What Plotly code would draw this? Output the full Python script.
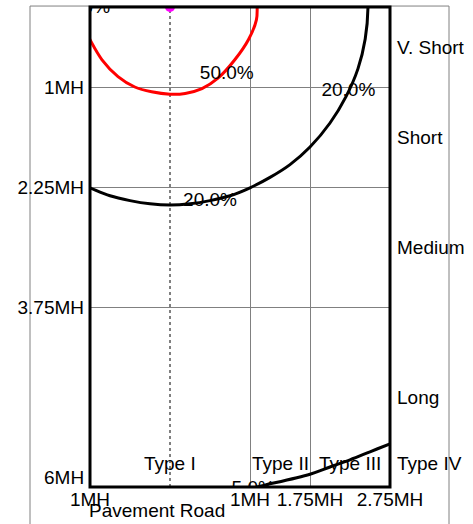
import plotly.graph_objects as go

# ---- axis ticks (in mounting heights, MH) ----
x_tick_vals = [-1, 1, 1.75, 2.75]
x_tick_text = ["1MH", "1MH", "1.75MH", "2.75MH"]
y_tick_vals = [1, 2.25, 3.75]
y_tick_text = ["1MH", "2.25MH", "3.75MH"]
y_last_tick_val = 6
y_last_tick_text = "6MH"

# ---- isocandela traces ----
red50_x = [-1.08, -1.01, -0.85, -0.65, -0.44, -0.23, 0.0, 0.19, 0.40, 0.60, 0.81, 0.98, 1.08, 1.09, 1.09]
red50_y = [0.25, 0.39, 0.66, 0.87, 1.00, 1.06, 1.09, 1.08, 1.02, 0.89, 0.66, 0.41, 0.16, 0.0, -0.1]

black20_x = [-1.1, -1.0, -0.75, -0.5, -0.25, 0.0, 0.25, 0.5, 0.75, 1.0, 1.25, 1.5, 1.75, 2.0, 2.2, 2.35, 2.44, 2.475, 2.47]
black20_y = [2.22, 2.26, 2.36, 2.42, 2.46, 2.475, 2.46, 2.42, 2.36, 2.26, 2.13, 1.97, 1.75, 1.45, 1.12, 0.77, 0.40, 0.0, -0.1]

black5_x = [0.6, 0.8, 1.0, 1.17, 1.75, 2.0, 2.25, 2.5, 2.75, 2.85]
black5_y = [6.07, 6.05, 6.02, 5.98, 5.84, 5.75, 5.66, 5.56, 5.46, 5.42]

# luminaire position
lum_x = [0.0]
lum_y = [0.0]

# contour labels
label_x = [0.71, 2.23, 0.5, 1.04, -1.02]
label_y = [0.84, 1.05, 2.43, 6.03, 0.02]
label_text = ["50.0%", "20.0%", "20.0%", "5.0%", "5.0%"]

# classification labels
lateral_types = ["Type I", "Type II", "Type III"]
lateral_x = [0.0, 1.375, 2.25]
lateral_label_y = 5.7
type4_label = "Type IV"
vertical_types = ["V. Short", "Short", "Medium", "Long"]
vertical_y = [0.5, 1.625, 3.0, 4.875]

FONT = "Liberation Sans, Arial, Helvetica, sans-serif"
FS = 19

fig = go.Figure()

fig.add_trace(go.Scatter(x=red50_x, y=red50_y, mode="lines",
                         line=dict(color="#ff0000", width=3, shape="spline", smoothing=1.0),
                         hoverinfo="skip", showlegend=False))
fig.add_trace(go.Scatter(x=black20_x, y=black20_y, mode="lines",
                         line=dict(color="#000000", width=3, shape="spline", smoothing=1.0),
                         hoverinfo="skip", showlegend=False))
fig.add_trace(go.Scatter(x=black5_x, y=black5_y, mode="lines",
                         line=dict(color="#000000", width=3, shape="spline", smoothing=1.0),
                         hoverinfo="skip", showlegend=False))
fig.add_trace(go.Scatter(x=label_x, y=label_y, mode="text", text=label_text,
                         textposition="middle center", cliponaxis=True,
                         textfont=dict(family=FONT, size=FS, color="#000000"),
                         hoverinfo="skip", showlegend=False))
fig.add_trace(go.Scatter(x=lum_x, y=lum_y, mode="markers", cliponaxis=True,
                         marker=dict(color="#ff00ff", size=10, symbol="circle"),
                         hoverinfo="skip", showlegend=False))

shapes = [
    dict(type="line", xref="x", yref="paper", x0=0, x1=0, y0=0, y1=1,
         line=dict(color="#000000", width=1, dash="dot"), layer="below"),
    dict(type="path", xref="paper", yref="paper",
         path="M -0.2,-0.2 L -0.2,1.002 L 1.1967,1.002 L 1.1967,-0.2",
         line=dict(color="#808080", width=1), layer="below"),
    dict(type="rect", xref="paper", yref="paper", x0=0, x1=1, y0=0, y1=1,
         line=dict(color="#000000", width=3), fillcolor="rgba(0,0,0,0)", layer="above"),
]

annotations = []
for t, xv in zip(lateral_types, lateral_x):
    annotations.append(dict(x=xv, y=lateral_label_y, xref="x", yref="y", text=t,
                            showarrow=False, xanchor="center", yanchor="middle",
                            font=dict(family=FONT, size=FS, color="#000000")))
annotations.append(dict(x=2.75, y=lateral_label_y, xref="x", yref="y", text=type4_label,
                        showarrow=False, xanchor="left", yanchor="middle", xshift=5,
                        font=dict(family=FONT, size=FS, color="#000000")))
for t, yv in zip(vertical_types, vertical_y):
    annotations.append(dict(x=2.75, y=yv, xref="x", yref="y", text=t,
                            showarrow=False, xanchor="left", yanchor="middle", xshift=5,
                            font=dict(family=FONT, size=FS, color="#000000")))
annotations.append(dict(x=0, y=-0.049, xref="paper", yref="paper", text="Pavement Road",
                        showarrow=False, xanchor="left", yanchor="middle", xshift=-3,
                        font=dict(family=FONT, size=FS, color="#000000")))
# last y tick label, lifted above the x tick labels as in the reference
annotations.append(dict(x=0, y=y_last_tick_val, xref="paper", yref="y", text=y_last_tick_text,
                        showarrow=False, xanchor="right", yanchor="middle", xshift=-4, yshift=10,
                        font=dict(family=FONT, size=FS, color="#000000")))

fig.update_layout(
    width=473, height=524,
    margin=dict(l=90, r=83, t=7, b=37, pad=0),
    paper_bgcolor="#ffffff", plot_bgcolor="#ffffff",
    font=dict(family=FONT, size=FS, color="#000000"),
    shapes=shapes, annotations=annotations,
    xaxis=dict(range=[-1, 2.75], tickmode="array", tickvals=x_tick_vals, ticktext=x_tick_text,
               showgrid=True, gridcolor="#808080", gridwidth=1, zeroline=False,
               showline=False, ticks="", ticklabelstandoff=-1, automargin=False,
               tickfont=dict(family=FONT, size=FS, color="#000000")),
    yaxis=dict(range=[6, 0], tickmode="array", tickvals=y_tick_vals, ticktext=y_tick_text,
               showgrid=True, gridcolor="#808080", gridwidth=1, zeroline=False,
               showline=False, ticks="", ticklabelstandoff=5, automargin=False,
               tickfont=dict(family=FONT, size=FS, color="#000000")),
)

fig.write_html("out.html", config={"displayModeBar": False},
               post_script="document.body.style.margin='0px';")
